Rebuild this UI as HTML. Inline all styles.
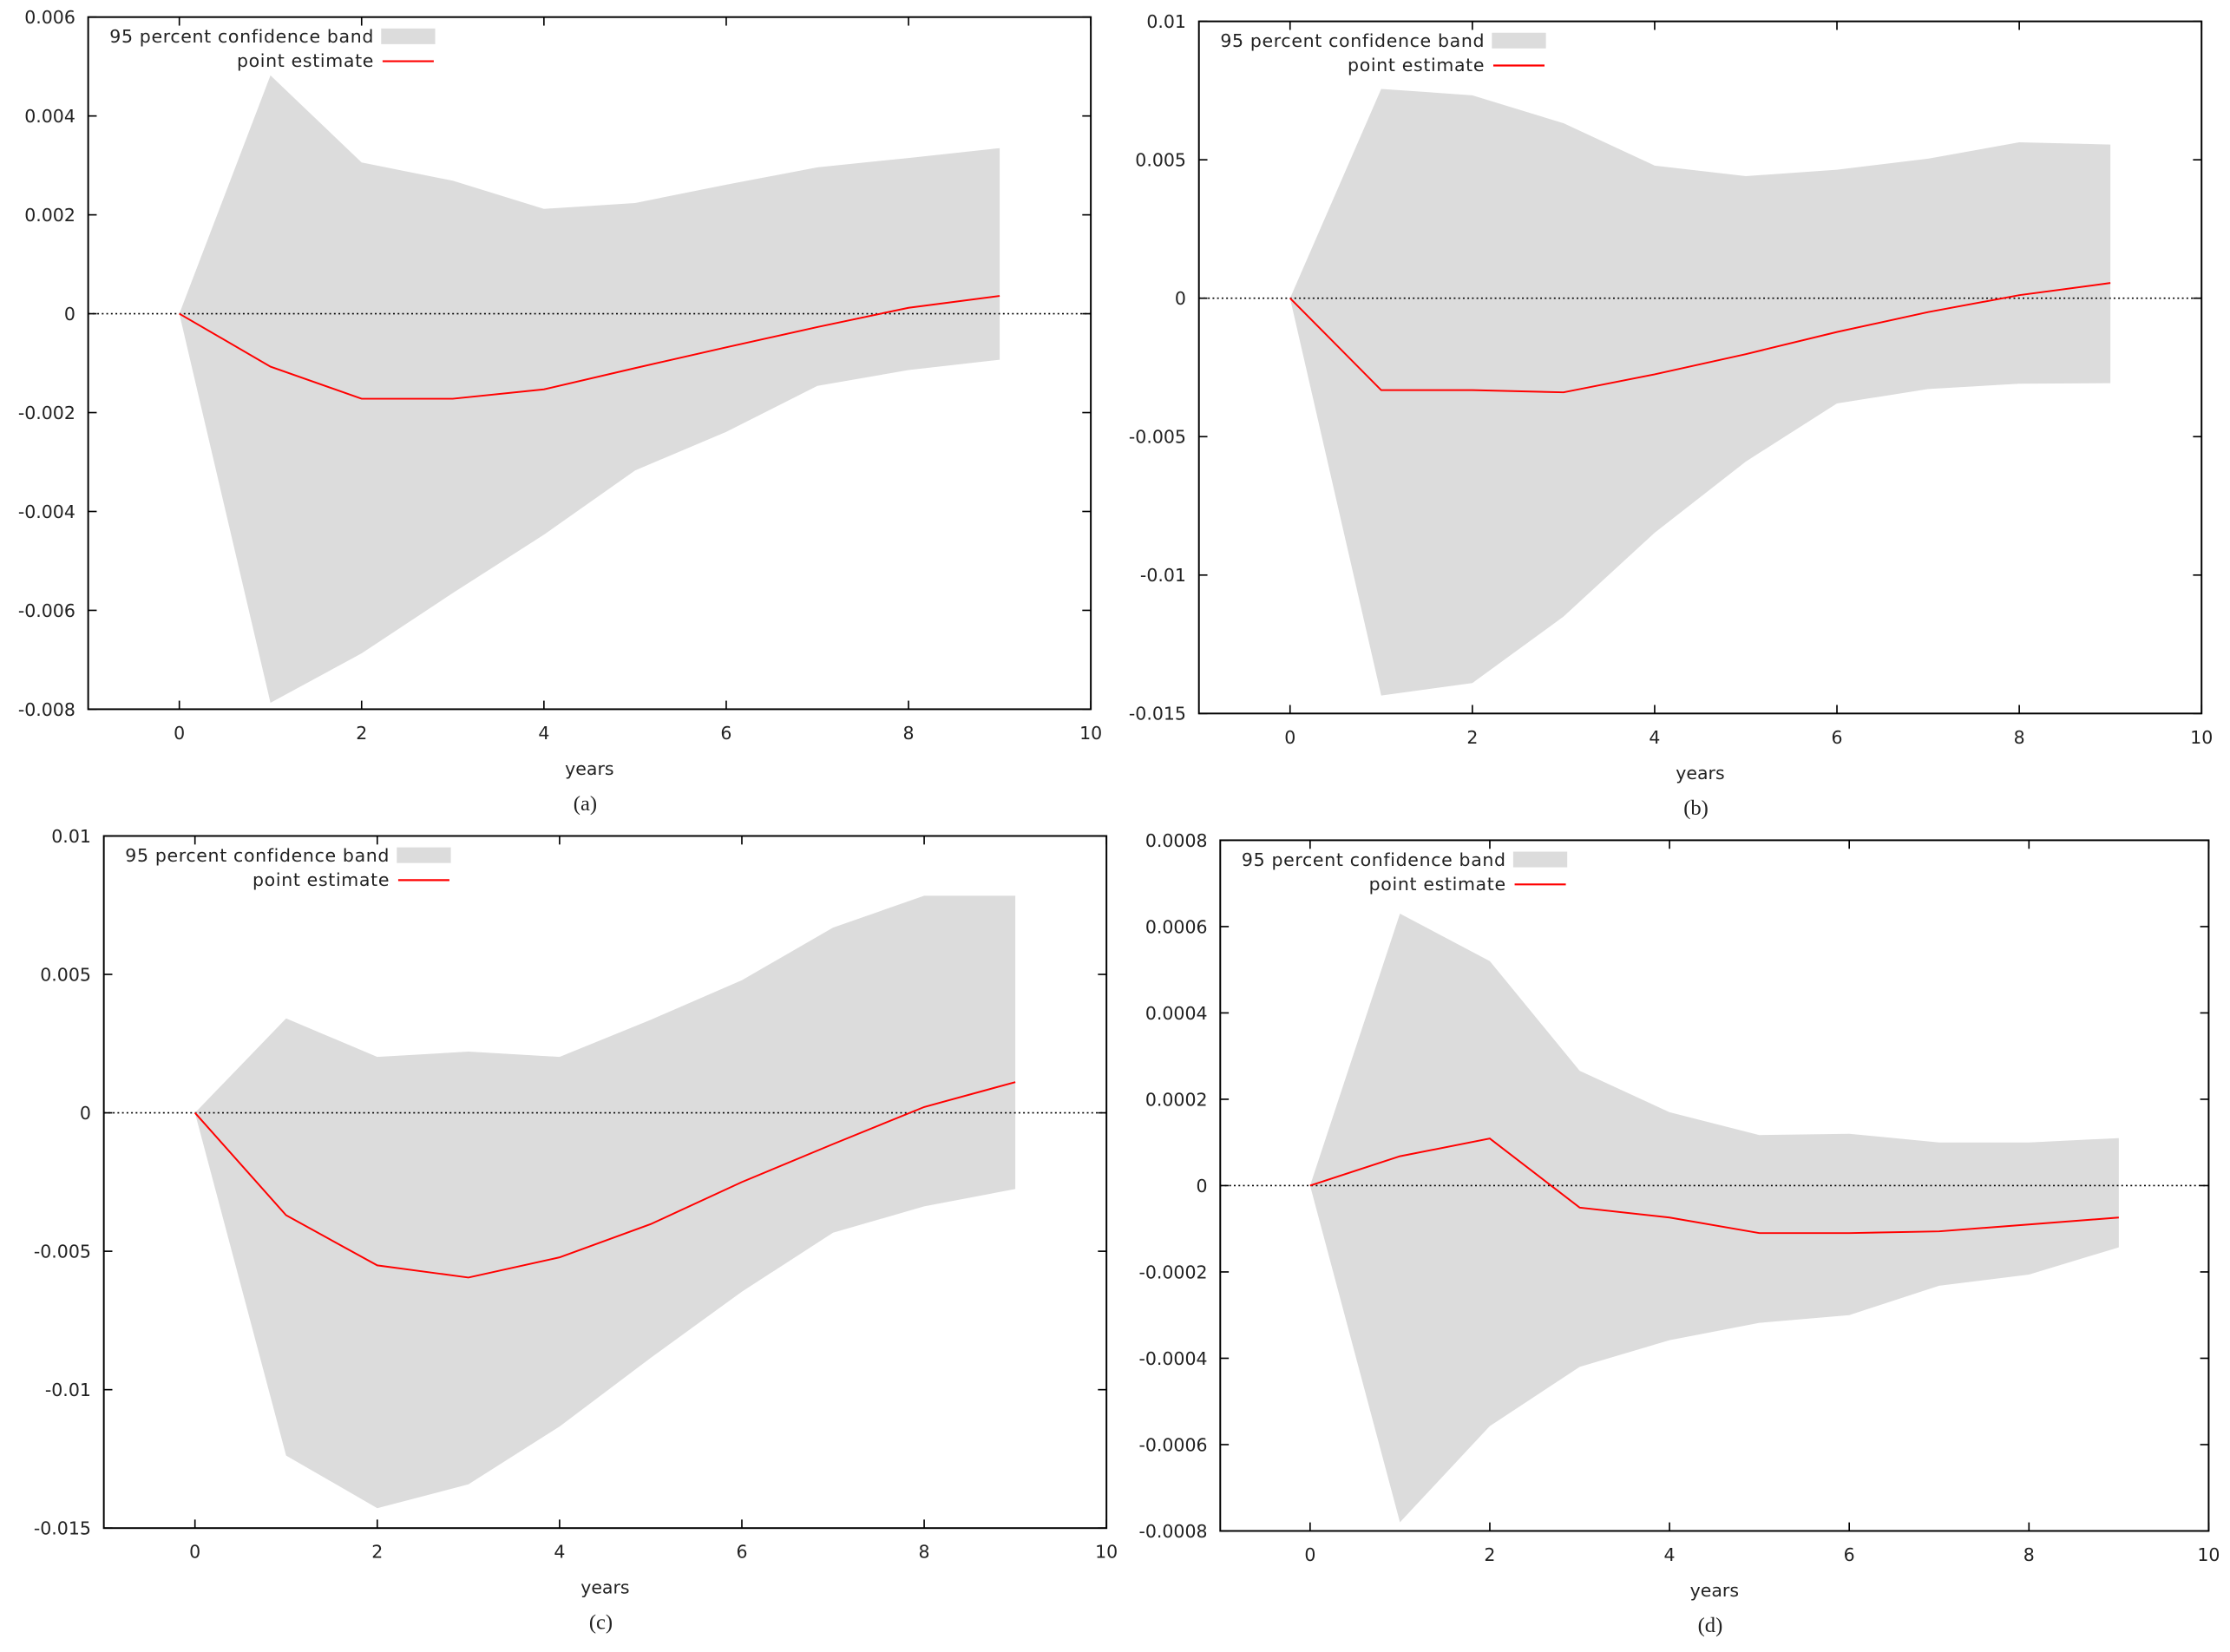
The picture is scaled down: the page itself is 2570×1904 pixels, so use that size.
<!DOCTYPE html>
<html><head><meta charset="utf-8"><style>
html,body{margin:0;padding:0;background:#fff;}
svg{display:block;}
text{font-family:"DejaVu Sans","Liberation Sans",sans-serif;fill:#222;}
.cap{font-family:"Liberation Serif","DejaVu Serif",serif;}
.leg{letter-spacing:0.4px;}
</style></head><body>
<svg id="fig" width="2570" height="1904" viewBox="0 0 1568 1160" preserveAspectRatio="none" xmlns="http://www.w3.org/2000/svg"></svg>
<script>
const years = [0,1,2,3,4,5,6,7,8,9];
const aUpper = [0,0.00482,0.00306,0.00269,0.00212,0.00224,0.00261,0.00296,0.00315,0.00335];
const aLower = [0,-0.00787,-0.00687,-0.00565,-0.00447,-0.00317,-0.00239,-0.00146,-0.00114,-0.00093];
const aEst = [0,-0.00107,-0.00172,-0.00172,-0.00153,-0.0011,-0.00068,-0.00027,0.00012,0.00036];
const bUpper = [0,0.00756,0.00733,0.00632,0.00479,0.00441,0.00464,0.00504,0.00563,0.00555];
const bLower = [0,-0.01435,-0.0139,-0.0115,-0.00847,-0.0059,-0.0038,-0.00328,-0.00309,-0.00307];
const bEst = [0,-0.00332,-0.00332,-0.0034,-0.00275,-0.00202,-0.00122,-0.0005,0.00011,0.00055];
const cUpper = [0,0.00341,0.00202,0.00221,0.00202,0.00336,0.00479,0.00669,0.00784,0.00784];
const cLower = [0,-0.01238,-0.01428,-0.01342,-0.01133,-0.00885,-0.00646,-0.00433,-0.00338,-0.00275];
const cEst = [0,-0.0037,-0.00551,-0.00595,-0.00522,-0.00402,-0.0025,-0.00113,0.00021,0.00111];
const dUpper = [0,0.00063,0.00052,0.000266,0.00017,0.000117,0.00012,0.0001,0.0001,0.00011];
const dLower = [0,-0.00078,-0.000557,-0.00042,-0.000358,-0.000318,-0.0003,-0.000232,-0.000206,-0.000143];
const dEst = [0,0.000068,0.000109,-0.000051,-0.000074,-0.00011,-0.00011,-0.000106,-0.00009,-0.000074];
const xTicks = [0,2,4,6,8,10];
const aYTicks = [-0.008,-0.006,-0.004,-0.002,0,0.002,0.004,0.006];
const aYLabels = ["-0.008","-0.006","-0.004","-0.002","0","0.002","0.004","0.006"];
const bYTicks = [-0.015,-0.01,-0.005,0,0.005,0.01];
const bYLabels = ["-0.015","-0.01","-0.005","0","0.005","0.01"];
const dYTicks = [-0.0008,-0.0006,-0.0004,-0.0002,0,0.0002,0.0004,0.0006,0.0008];
const dYLabels = ["-0.0008","-0.0006","-0.0004","-0.0002","0","0.0002","0.0004","0.0006","0.0008"];

const NS="http://www.w3.org/2000/svg";
const svg=document.getElementById('fig');
function mk(tag,attrs,parent){const e=document.createElementNS(NS,tag);for(const k in attrs)e.setAttribute(k,attrs[k]);(parent||svg).appendChild(e);return e;}

function panel(id,L,R,T,B,ymin,ymax,yT,yL,up,lo,est,cap){
  const g=mk('g',{});
  
  
  const sx=v=>L+(v+1)/11*(R-L);
  const sy=v=>B-(v-ymin)/(ymax-ymin)*(B-T);
  let pts=years.map((x,i)=>sx(x)+','+sy(up[i]));
  pts=pts.concat(years.slice().reverse().map((x,j)=>{const i=years.length-1-j;return sx(x)+','+sy(lo[i]);}));
  const band=mk('polygon',{points:pts.join(' '),fill:'#dcdcdc'},g);
  
  
  const zl=mk('line',{x1:L,x2:R,y1:sy(0),y2:sy(0),stroke:'#000','stroke-width':1,'stroke-dasharray':'1.2,2'},g);
  
  
  const line=mk('polyline',{points:years.map((x,i)=>sx(x)+','+sy(est[i])).join(' '),fill:'none',stroke:'#f00','stroke-width':1.2},g);
  
  
  const box=mk('rect',{x:L,y:T,width:R-L,height:B-T,fill:'none',stroke:'#000','stroke-width':1.2},g);
  
  
  xTicks.forEach(v=>{
    const x=sx(v);
    mk('line',{x1:x,x2:x,y1:B,y2:B-6,stroke:'#000'},g);
    mk('line',{x1:x,x2:x,y1:T,y2:T+6,stroke:'#000'},g);
    const t=mk('text',{x:x,y:B+21,'text-anchor':'middle','font-size':12.5},g);
    t.textContent=v;
    
    
  });
  yT.forEach((v,i)=>{
    const y=sy(v);
    mk('line',{x1:L,x2:L+6,y1:y,y2:y,stroke:'#000'},g);
    mk('line',{x1:R,x2:R-6,y1:y,y2:y,stroke:'#000'},g);
    const t=mk('text',{x:L-9,y:y+4.5,'text-anchor':'end','font-size':12.5},g);
    t.textContent=yL[i];
    
    
  });
  const t1=mk('text',{x:L+201,y:T+18,'text-anchor':'end','font-size':12.5,'class':'leg'},g);
  t1.textContent='95 percent confidence band';
  
  
  const sw=mk('rect',{x:L+206,y:T+8,width:38,height:11,fill:'#dcdcdc'},g);
  
  
  const t2=mk('text',{x:L+201,y:T+35,'text-anchor':'end','font-size':12.5,'class':'leg'},g);
  t2.textContent='point estimate';
  
  
  const sl=mk('line',{x1:L+207,x2:L+243,y1:T+31,y2:T+31,stroke:'#f00','stroke-width':1.3},g);
  
  
  const xt=mk('text',{x:(L+R)/2,y:B+46,'text-anchor':'middle','font-size':12.5},g);
  xt.textContent='years';
  
  
  const c=mk('text',{x:(L+R)/2-3,y:B+71,'text-anchor':'middle','font-size':15,'class':'cap'},g);
  c.textContent=cap;
  
  
}
panel('a',62,767,12,498,-0.008,0.006,aYTicks,aYLabels,aUpper,aLower,aEst,'(a)');
panel('b',843,1548,15,501,-0.015,0.01,bYTicks,bYLabels,bUpper,bLower,bEst,'(b)');
panel('c',73,778,587,1073,-0.015,0.01,bYTicks,bYLabels,cUpper,cLower,cEst,'(c)');
panel('d',858,1553,590,1075,-0.0008,0.0008,dYTicks,dYLabels,dUpper,dLower,dEst,'(d)');
</script>
</body></html>
